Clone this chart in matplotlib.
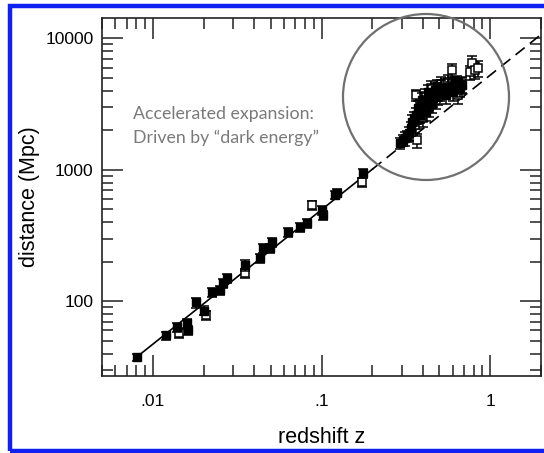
import matplotlib
matplotlib.use("Agg")
import matplotlib.pyplot as plt
from matplotlib.patches import Ellipse, Rectangle
from matplotlib.ticker import FixedLocator, LogLocator, NullFormatter

# supernova / galaxy points: redshift, distance (Mpc), relative error
z_fill = [0.00804, 0.0119, 0.0139, 0.0159, 0.0161, 0.018, 0.0201, 0.0224, 0.025,
          0.026, 0.0275, 0.0352, 0.0431, 0.045, 0.0495, 0.0508, 0.0633, 0.0745,
          0.082, 0.1, 0.102, 0.12, 0.1236, 0.176, 0.292, 0.305, 0.313, 0.322,
          0.331, 0.340, 0.344, 0.354, 0.374, 0.384, 0.395, 0.406, 0.417, 0.429,
          0.441, 0.453, 0.472, 0.485, 0.505, 0.526, 0.548, 0.579, 0.603, 0.637, 0.664,
          0.364, 0.389, 0.411, 0.435, 0.459, 0.491, 0.512, 0.563, 0.620, 0.682]
d_fill = [37.5, 55, 63.4, 68, 60, 98, 85, 117, 121,
          137, 150, 188, 212, 253, 253, 281, 335, 366,
          392, 492, 451, 640, 663, 940, 1590, 1680, 1735, 1800,
          1895, 2070, 2300, 2460, 2940, 2600, 3380, 3040, 2740, 3890,
          3500, 3150, 4030, 4310, 3890, 4030, 3690, 4170, 3890, 4630, 4170,
          2600, 2840, 3200, 3300, 3500, 3900, 4200, 4300, 4500, 4400]
e_fill = [0.06, 0.07, 0.08, 0.08, 0.08, 0.09, 0.08, 0.08, 0.08,
          0.08, 0.08, 0.09, 0.08, 0.08, 0.08, 0.08, 0.08, 0.08,
          0.08, 0.08, 0.08, 0.07, 0.07, 0.08, 0.1, 0.1, 0.12, 0.1,
          0.12, 0.12, 0.14, 0.12, 0.14, 0.12, 0.14, 0.12, 0.14, 0.14,
          0.12, 0.14, 0.14, 0.12, 0.14, 0.12, 0.14, 0.12, 0.14, 0.12, 0.14,
          0.14, 0.14, 0.14, 0.14, 0.14, 0.14, 0.14, 0.14, 0.14, 0.14]

z_open = [0.01426, 0.0206, 0.0352, 0.0879, 0.174, 0.359, 0.364, 0.369, 0.374,
          0.384, 0.389, 0.400, 0.411, 0.423, 0.435, 0.447, 0.459, 0.478,
          0.491, 0.512, 0.541, 0.563, 0.595, 0.620, 0.646, 0.682, 0.595,
          0.761, 0.782, 0.815, 0.849]
d_open = [57, 78, 163, 537, 803, 2180, 3690, 1680, 2380,
          3150, 2840, 2460, 3620, 3260, 2940, 4170, 3690, 3380,
          3620, 4470, 4310, 4630, 4470, 4310, 3690, 4470, 5720,
          5510, 6450, 5720, 5910]
e_open = [0.08, 0.08, 0.08, 0.08, 0.08, 0.12, 0.1, 0.12, 0.14,
          0.14, 0.14, 0.14, 0.14, 0.14, 0.14, 0.14, 0.14, 0.14,
          0.14, 0.14, 0.14, 0.14, 0.14, 0.14, 0.14, 0.14, 0.12,
          0.12, 0.14, 0.14, 0.14]

# Hubble-law line, solid over the nearby points and dashed beyond
line_z = [0.008, 0.2, 2.0]
line_d = [37.5, 1010, 10700]

fig = plt.figure(figsize=(5.44, 4.53), dpi=100)
ax = fig.add_axes([102 / 544, 1 - 376 / 453, 439 / 544, 358 / 453])

ax.plot(line_z[:2], line_d[:2], color="black", lw=1.2, zorder=2)
ax.plot(line_z[1:], line_d[1:], color="black", lw=1.2, dashes=(7, 4), zorder=2)

ax.errorbar(z_open, d_open, yerr=[di * ei for di, ei in zip(d_open, e_open)],
            fmt="s", ms=6, mfc="white", mec="black", mew=1.1, ecolor="black",
            elinewidth=1.1, capsize=3.5, capthick=1.1, zorder=3)
ax.errorbar(z_fill, d_fill, yerr=[di * ei for di, ei in zip(d_fill, e_fill)],
            fmt="s", ms=6, mfc="black", mec="black", ecolor="black",
            elinewidth=1.1, capsize=3.5, capthick=1.1, zorder=4)

ax.set_xscale("log")
ax.set_yscale("log")
ax.set_xlim(0.005, 2.0)
ax.set_ylim(27, 14300)

ax.xaxis.set_major_locator(FixedLocator([0.01, 0.1, 1]))
ax.set_xticklabels([".01", ".1", "1"])
ax.yaxis.set_major_locator(FixedLocator([100, 1000, 10000]))
ax.set_yticklabels(["100", "1000", "10000"])
ax.xaxis.set_minor_locator(LogLocator(base=10, subs=range(2, 10)))
ax.yaxis.set_minor_locator(LogLocator(base=10, subs=range(2, 10)))
ax.xaxis.set_minor_formatter(NullFormatter())
ax.yaxis.set_minor_formatter(NullFormatter())

ax.tick_params(which="both", direction="in", top=True, right=True, width=1.1,
               colors="#222222", labelcolor="black")
ax.tick_params(which="major", length=15, labelsize=12.5)
ax.tick_params(which="minor", length=8)
ax.tick_params(axis="x", which="major", pad=13)
ax.tick_params(axis="y", which="major", pad=6)
for s in ax.spines.values():
    s.set_linewidth(1.2)
    s.set_color("#222222")

for lab in ax.get_xticklabels() + ax.get_yticklabels():
    lab.set_family(["Liberation Sans", "DejaVu Sans"])

ax.set_xlabel("redshift z", fontsize=15.5, family=["Liberation Sans", "DejaVu Sans"], labelpad=13)
ax.set_ylabel("distance (Mpc)", fontsize=15.5, family=["Liberation Sans", "DejaVu Sans"], labelpad=4)

fig.text(133 / 544, 1 - 126 / 453, "Accelerated expansion:\nDriven by \u201cdark energy\u201d",
         fontsize=12.8, color="#7a7a7a", family=["Lato", "DejaVu Sans"],
         va="center", ha="left", linespacing=1.5)

fig.add_artist(Ellipse((426 / 544, 1 - 97 / 453), 166 / 544, 166 / 453,
                       transform=fig.transFigure, fill=False,
                       edgecolor="#707070", lw=1.6))

# blue frame round the figure
fig.add_artist(Rectangle((10 / 544, 2 / 453), 540 / 544, 445 / 453,
                         transform=fig.transFigure, fill=False,
                         edgecolor="#1020f0", lw=3.2))

fig.savefig("out.png", dpi=100)
